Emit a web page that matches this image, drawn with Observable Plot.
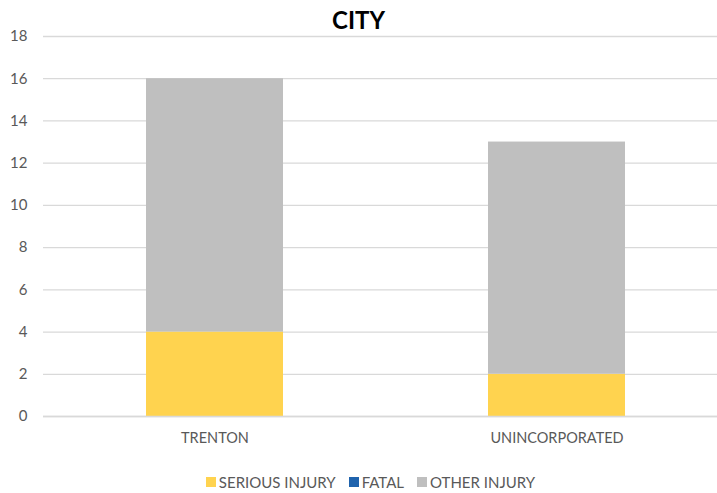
<!DOCTYPE html>
<html>
<head>
<meta charset="utf-8">
<script src="https://cdn.jsdelivr.net/npm/d3@7"></script>
<script src="https://cdn.jsdelivr.net/npm/@observablehq/plot@0.6"></script>
<style>
  html, body { margin: 0; padding: 0; background: #fff; }
  body { width: 717px; height: 493px; overflow: hidden; position: relative; font-family: Lato, "Open Sans", sans-serif; }
  #title { position: absolute; left: 0; top: 5px; width: 717px; height: 30px; line-height: 30px; text-align: center; font-weight: bold; font-size: 24px; color: #000; z-index: 2; }
  #chart { position: absolute; left: 0; top: 0; height: 460px; }
  #legend { position: absolute; left: 12px; top: 466px; width: 717px; display: flex; justify-content: center; align-items: center; gap: 13px; height: 32px; font-size: 15px; color: #595959; }
  #legend .item { display: flex; align-items: center; gap: 3px; }
  #legend .sw { width: 10px; height: 10px; display: inline-block; }
</style>
</head>
<body>
<div id="chart"></div>
<div id="title">CITY</div>
<div id="legend"></div>
<script>
const cities = ["TRENTON", "UNINCORPORATED"];
const series = ["SERIOUS INJURY", "FATAL", "OTHER INJURY"];
const colors = ["#FFD34F", "#1F63AD", "#BFBFBF"];
const seriousInjury = [4, 2];
const fatal = [0, 0];
const otherInjury = [12, 11];
const yTicks = [0, 2, 4, 6, 8, 10, 12, 14, 16, 18];

const valuesBySeries = [seriousInjury, fatal, otherInjury];
const data = [];
series.forEach((s, si) => cities.forEach((c, ci) => data.push({city: c, series: s, value: valuesBySeries[si][ci]})));

const chart = Plot.plot({
  width: 717,
  height: 460,
  marginLeft: 43,
  marginRight: 0,
  marginTop: 36,
  marginBottom: 44,
  style: {fontFamily: "Lato, 'Open Sans', sans-serif", fontSize: "15px", color: "#595959", background: "transparent"},
  x: {domain: cities, range: [43, 727], paddingInner: 0.6, paddingOuter: 0.3, label: null},
  y: {domain: [0, 18], ticks: yTicks, label: null},
  color: {domain: series, range: colors},
  marks: [
    Plot.gridY(yTicks, {stroke: "#D9D9D9", strokeOpacity: 1, strokeWidth: 1.3}),
    Plot.barY(data, Plot.stackY({order: series}, {x: "city", y: "value", fill: "series"})),
    Plot.ruleY([0], {stroke: "#D9D9D9", strokeWidth: 1.3}),
    Plot.axisY(yTicks, {tickSize: 0, tickPadding: 16, fill: "#595959", fontSize: 15, label: null}),
    Plot.axisX({tickSize: 0, tickPadding: 16, fill: "#595959", fontSize: 14.5, label: null})
  ]
});
document.getElementById("chart").appendChild(chart);

const legend = document.getElementById("legend");
series.forEach((s, i) => {
  const item = document.createElement("span");
  item.className = "item";
  const sw = document.createElement("span");
  sw.className = "sw";
  sw.style.background = colors[i];
  const t = document.createElement("span");
  t.textContent = s;
  item.appendChild(sw);
  item.appendChild(t);
  legend.appendChild(item);
});
</script>
</body>
</html>
